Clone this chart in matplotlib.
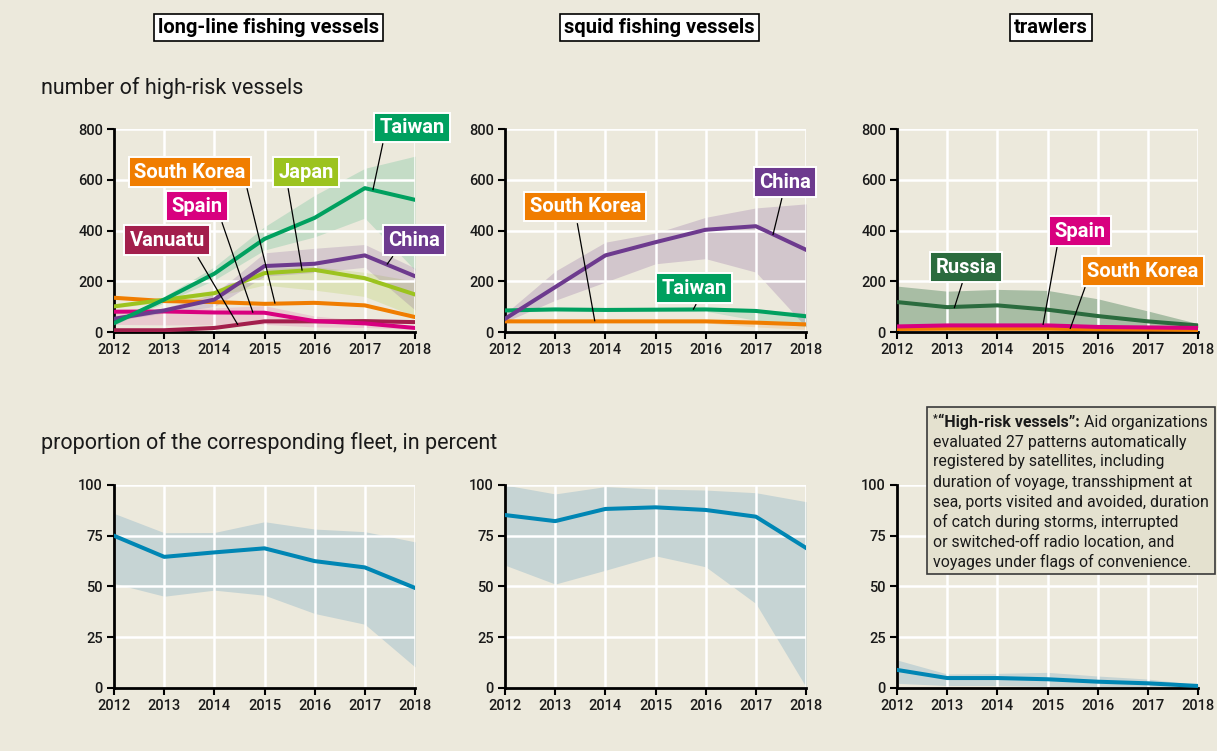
import matplotlib
matplotlib.use("Agg")
import matplotlib.pyplot as plt
from matplotlib.patches import Rectangle

plt.rcParams['font.family'] = ['Roboto', 'DejaVu Sans']

# ---------------- data ----------------
years = [2012, 2013, 2014, 2015, 2016, 2017, 2018]

# long-line fishing vessels: number of high-risk vessels
ll_taiwan = [35, 128, 230, 367, 450, 567, 521]
ll_taiwan_lo = [28, 115, 205, 323, 375, 449, 244]
ll_taiwan_hi = [42, 140, 257, 415, 539, 645, 693]
ll_china = [52, 85, 128, 260, 269, 302, 220]
ll_china_lo = [45, 75, 100, 220, 235, 255, 87]
ll_china_hi = [60, 95, 150, 312, 330, 345, 252]
ll_japan = [101, 127, 153, 232, 245, 212, 148]
ll_japan_lo = [95, 118, 140, 185, 165, 140, 62]
ll_japan_hi = [108, 135, 165, 250, 258, 235, 200]
ll_korea = [135, 122, 118, 111, 115, 105, 59]
ll_spain = [80, 81, 77, 76, 43, 34, 16]
ll_spain_lo = [30, 28, 28, 30, 20, 18, 10]
ll_spain_hi = [86, 90, 95, 104, 63, 45, 22]
ll_vanuatu = [7, 7, 16, 42, 42, 43, 39]

# squid fishing vessels
sq_china = [52, 177, 302, 354, 403, 417, 324]
sq_china_lo = [40, 125, 197, 269, 289, 236, 20]
sq_china_hi = [72, 240, 354, 390, 452, 489, 505]
sq_taiwan = [85, 89, 87, 88, 89, 83, 62]
sq_taiwan_lo = [80, 84, 82, 83, 82, 46, 20]
sq_taiwan_hi = [90, 94, 92, 93, 95, 90, 75]
sq_korea = [42, 42, 42, 42, 42, 37, 30]
sq_korea_lo = [38, 38, 38, 38, 36, 20, 10]
sq_korea_hi = [46, 46, 46, 46, 46, 42, 35]

# trawlers
tr_russia = [118, 98, 105, 88, 63, 42, 26]
tr_russia_lo = [15, 15, 15, 15, 15, 15, 18]
tr_russia_hi = [181, 161, 168, 164, 131, 83, 33]
tr_spain = [22, 26, 26, 26, 20, 18, 16]
tr_korea = [12, 13, 13, 13, 11, 10, 8]

# proportion of the corresponding fleet, in percent
ll_pct = [75, 64.6, 66.8, 68.8, 62.5, 59.4, 49.3]
ll_pct_lo = [51.5, 45.2, 48.2, 45.7, 36.7, 31.4, 10.4]
ll_pct_hi = [86, 76.5, 76.6, 81.9, 78.3, 77, 72]
sq_pct = [85.2, 82.2, 88.2, 89, 87.7, 84.4, 69]
sq_pct_lo = [60.5, 51.2, 58, 65.1, 59.7, 41.6, 0.5]
sq_pct_hi = [100, 95.6, 99.2, 98, 97.5, 96.2, 91.8]
tr_pct = [8.9, 4.9, 4.9, 4.3, 3.1, 2.3, 1.0]
tr_pct_lo = [2.3, 1.2, 1.2, 0.8, 0.6, 0.5, 0.3]
tr_pct_hi = [13.8, 6.9, 7.2, 7.7, 5.9, 4.4, 1.6]

panel_titles = ["long-line fishing vessels", "squid fishing vessels", "trawlers"]
count_ticks = [0, 200, 400, 600, 800]
pct_ticks = [0, 25, 50, 75, 100]

# ---------------- style ----------------
BG = "#ece9dc"
C_TAIWAN = "#00a05f"
C_CHINA = "#6d3a8e"
C_JAPAN = "#9cc31f"
C_KOREA = "#f07d00"
C_SPAIN = "#d8007f"
C_VANUATU = "#a31f4c"
C_RUSSIA = "#2b6b3e"
C_PCT = "#0086b4"
C_PCT_BAND = "#c6d4d4"
LW = 2.9

fig = plt.figure(figsize=(12.17, 7.51), dpi=100, facecolor=BG)

lefts = [0.0937, 0.4150, 0.7371]
width = 0.2473
height = 0.2703
top_bottom = 0.5579
low_bottom = 0.0839


def style_axes(ax, ymax, yticks):
    ax.set_facecolor(BG)
    ax.set_xlim(2012, 2018)
    ax.set_ylim(0, ymax)
    ax.set_xticks(years)
    ax.set_yticks(yticks)
    ax.set_axisbelow('line')
    ax.grid(True, color="white", lw=1.8)
    for s in ("top", "right"):
        ax.spines[s].set_visible(False)
    for s in ("left", "bottom"):
        ax.spines[s].set_linewidth(2.0)
        ax.spines[s].set_color("black")
    ax.tick_params(direction="out", length=5, width=1.5, color="black",
                   labelsize=10.5, labelcolor="#1a1a1a", pad=3)
    for lab in ax.get_xticklabels() + ax.get_yticklabels():
        lab.set_fontweight("medium")


def label(ax, text, color, pos, start, end):
    ax.plot([start[0], end[0]], [start[1], end[1]], color="black", lw=0.9,
            zorder=6, clip_on=False, solid_capstyle="butt")
    ax.text(pos[0], pos[1], text, ha="center", va="center", color="white",
            fontsize=14.5, fontweight="bold", zorder=7, clip_on=False,
            bbox=dict(boxstyle="square,pad=0.26", fc=color, ec="white", lw=1.4))


# ---------------- top row: counts ----------------
ax1 = fig.add_axes([lefts[0], top_bottom, width, height])
style_axes(ax1, 800, count_ticks)
ax1.fill_between(years, ll_japan_lo, ll_japan_hi, color=C_JAPAN, alpha=0.18, lw=0)
ax1.fill_between(years, ll_spain_lo, ll_spain_hi, color=C_SPAIN, alpha=0.13, lw=0)
ax1.fill_between(years, ll_china_lo, ll_china_hi, color=C_CHINA, alpha=0.18, lw=0)
ax1.fill_between(years, ll_taiwan_lo, ll_taiwan_hi, color=C_TAIWAN, alpha=0.17, lw=0)
ax1.plot(years, ll_vanuatu, color=C_VANUATU, lw=LW, zorder=3)
ax1.plot(years, ll_spain, color=C_SPAIN, lw=LW, zorder=3)
ax1.plot(years, ll_korea, color=C_KOREA, lw=LW, zorder=3)
ax1.plot(years, ll_japan, color=C_JAPAN, lw=LW, zorder=3)
ax1.plot(years, ll_china, color=C_CHINA, lw=LW, zorder=3)
ax1.plot(years, ll_taiwan, color=C_TAIWAN, lw=LW, zorder=3)
label(ax1, "Taiwan", C_TAIWAN, (2017.94, 807), (2017.36, 744), (2017.16, 559))
label(ax1, "South Korea", C_KOREA, (2013.51, 630), (2014.65, 567), (2015.21, 112))
label(ax1, "Japan", C_JAPAN, (2015.83, 630), (2015.47, 567), (2015.75, 242))
label(ax1, "Spain", C_SPAIN, (2013.65, 496), (2014.15, 433), (2014.77, 76))
label(ax1, "Vanuatu", C_VANUATU, (2013.06, 362), (2013.67, 295), (2014.47, 28))
label(ax1, "China", C_CHINA, (2017.98, 362), (2017.56, 299), (2017.44, 266))

ax2 = fig.add_axes([lefts[1], top_bottom, width, height])
style_axes(ax2, 800, count_ticks)
ax2.fill_between(years, sq_china_lo, sq_china_hi, color=C_CHINA, alpha=0.2, lw=0)
ax2.fill_between(years, sq_taiwan_lo, sq_taiwan_hi, color=C_TAIWAN, alpha=0.15, lw=0)
ax2.fill_between(years, sq_korea_lo, sq_korea_hi, color=C_KOREA, alpha=0.15, lw=0)
ax2.plot(years, sq_korea, color=C_KOREA, lw=LW, zorder=3)
ax2.plot(years, sq_taiwan, color=C_TAIWAN, lw=LW, zorder=3)
ax2.plot(years, sq_china, color=C_CHINA, lw=LW, zorder=3)
label(ax2, "China", C_CHINA, (2017.58, 591), (2017.52, 528), (2017.34, 382))
label(ax2, "South Korea", C_KOREA, (2013.60, 494), (2013.44, 429), (2013.79, 42))
label(ax2, "Taiwan", C_TAIWAN, (2015.77, 173), (2015.81, 110), (2015.75, 88))

ax3 = fig.add_axes([lefts[2], top_bottom, width, height])
style_axes(ax3, 800, count_ticks)
ax3.fill_between(years, tr_russia_lo, tr_russia_hi, color=C_RUSSIA, alpha=0.35, lw=0)
ax3.plot(years, tr_russia, color=C_RUSSIA, lw=LW, zorder=3)
ax3.plot(years, tr_korea, color=C_KOREA, lw=LW, zorder=3)
ax3.plot(years, tr_spain, color=C_SPAIN, lw=LW, zorder=3)
label(ax3, "Russia", C_RUSSIA, (2013.37, 256), (2013.30, 193), (2013.14, 94))
label(ax3, "Spain", C_SPAIN, (2015.65, 398), (2015.19, 335), (2014.91, 28))
label(ax3, "South Korea", C_KOREA, (2016.90, 240), (2015.75, 177), (2015.45, 12))

# ---------------- bottom row: percent ----------------
pct_sets = [(ll_pct, ll_pct_lo, ll_pct_hi), (sq_pct, sq_pct_lo, sq_pct_hi),
            (tr_pct, tr_pct_lo, tr_pct_hi)]
for left, (mid, lo, hi) in zip(lefts, pct_sets):
    ax = fig.add_axes([left, low_bottom, width, height])
    style_axes(ax, 100, pct_ticks)
    ax.fill_between(years, lo, hi, color=C_PCT_BAND, lw=0)
    ax.plot(years, mid, color=C_PCT, lw=LW, zorder=3)

# ---------------- headings ----------------
for left, title in zip(lefts, panel_titles):
    fig.text(left + width / 2 + 0.003, 0.964, title, ha="center", va="center",
             fontsize=14.5, fontweight="bold", color="black",
             bbox=dict(boxstyle="square,pad=0.2", fc="white", ec="black", lw=1.2))

fig.text(0.0337, 0.8828, "number of high-risk vessels", ha="left", va="center",
         fontsize=15.5, color="#1a1a1a")
fig.text(0.0337, 0.410, "proportion of the corresponding fleet, in percent",
         ha="left", va="center", fontsize=15.5, color="#1a1a1a")

# ---------------- footnote ----------------
W, H = 1217, 751
fig.patches.append(Rectangle((927 / W, 1 - 574 / H), 288 / W, 167 / H,
                             transform=fig.transFigure, fc="#e4e1cf",
                             ec="#3a3a3a", lw=1.2, zorder=5))
renderer = fig.canvas.get_renderer()
x0 = 933 / W
base0 = 426.5
note_fs = 11.4
star = fig.text(x0, 1 - (base0 - 5) / H, "*", fontsize=7.5, fontweight="bold",
                va="baseline", ha="left", color="#1a1a1a", zorder=6)
x = star.get_window_extent(renderer).x1 / W + 0.0005
bold = fig.text(x, 1 - base0 / H, "\u201cHigh-risk vessels\u201d:", fontsize=note_fs,
                fontweight="bold", va="baseline", ha="left", color="#1a1a1a", zorder=6)
x = bold.get_window_extent(renderer).x1 / W
fig.text(x, 1 - base0 / H, " Aid organizations", fontsize=note_fs, va="baseline",
         ha="left", color="#1a1a1a", zorder=6)
note_lines = [
    "evaluated 27 patterns automatically",
    "registered by satellites, including",
    "duration of voyage, transshipment at",
    "sea, ports visited and avoided, duration",
    "of catch during storms, interrupted",
    "or switched-off radio location, and",
    "voyages under flags of convenience.",
]
for i, line in enumerate(note_lines):
    fig.text(x0, 1 - (base0 + 20 * (i + 1)) / H, line, fontsize=note_fs,
             va="baseline", ha="left", color="#1a1a1a", zorder=6)

fig.savefig("out.png", dpi=100, facecolor=BG)
